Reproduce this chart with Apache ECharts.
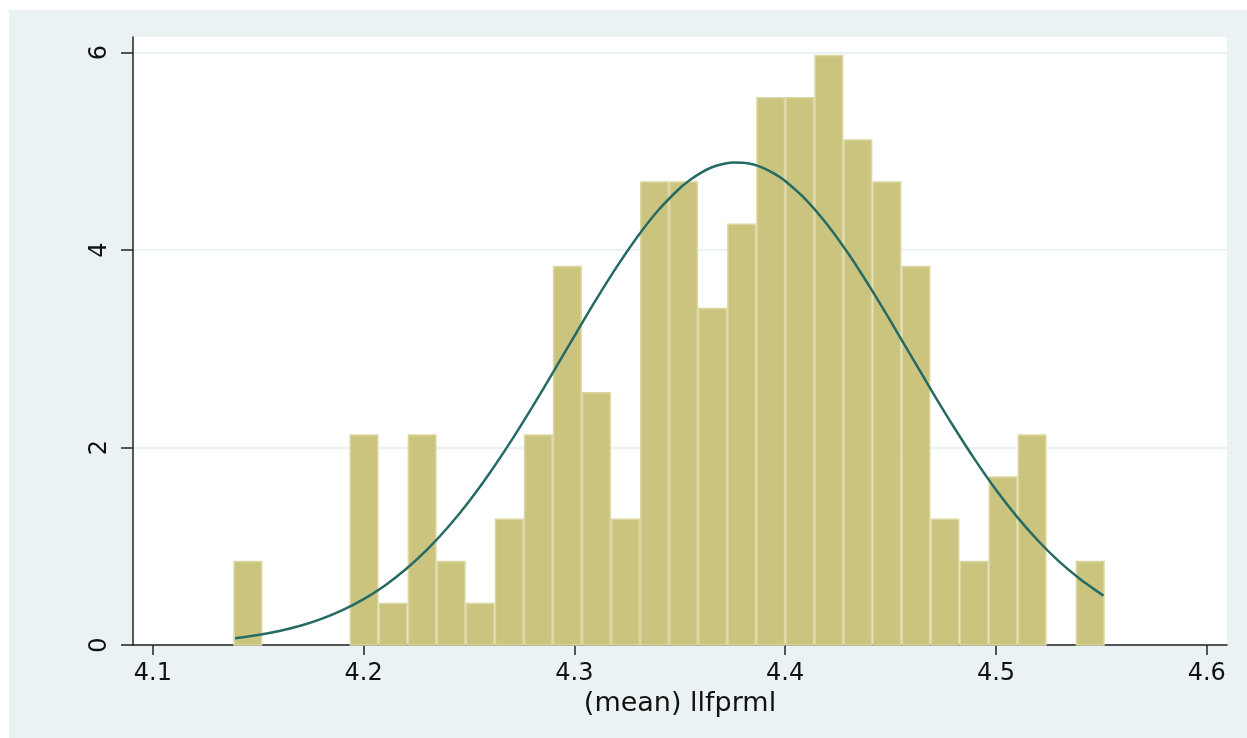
<!DOCTYPE html>
<html>
<head>
<meta charset="utf-8">
<script src="https://cdn.jsdelivr.net/npm/echarts@6/dist/echarts.min.js"></script>
<style>
html,body{margin:0;padding:0;background:#fff;}
#frame{position:absolute;left:9px;top:10px;width:1238px;height:728px;background:#eaf2f3;}
#chart{position:absolute;left:0;top:0;width:1247px;height:738px;}
</style>
</head>
<body>
<div id="frame"></div>
<div id="chart"></div>
<script>
// Histogram: bins of equal width starting at binStart
const binStart = 4.1382;
const binWidth = 0.01378;
const density = [0.854, 0, 0, 0, 2.135, 0.427, 2.135, 0.854, 0.427, 1.281,
                 2.135, 3.842, 2.562, 1.281, 4.696, 4.696, 3.415, 4.269, 5.55, 5.55,
                 5.977, 5.123, 4.696, 3.842, 1.281, 0.854, 1.708, 2.135, 0, 0.854];
// Normal density curve
const curveX = [4.139, 4.15, 4.16, 4.17, 4.18, 4.19, 4.20, 4.21, 4.22, 4.23, 4.24, 4.25,
                4.26, 4.27, 4.28, 4.29, 4.30, 4.31, 4.32, 4.33, 4.34, 4.35, 4.355, 4.36, 4.365, 4.37,
                4.375, 4.38, 4.385, 4.39, 4.395, 4.40, 4.41, 4.42, 4.43, 4.44, 4.45, 4.46, 4.47, 4.48, 4.49,
                4.50, 4.51, 4.52, 4.53, 4.54, 4.551];
const curveY = [0.069, 0.102, 0.142, 0.195, 0.265, 0.353, 0.464, 0.601, 0.767, 0.963, 1.193, 1.454,
                1.747, 2.067, 2.409, 2.766, 3.129, 3.487, 3.827, 4.138, 4.408, 4.626, 4.712, 4.782, 4.836, 4.869,
                4.886, 4.885, 4.866, 4.827, 4.771, 4.699, 4.507, 4.257, 3.962, 3.632, 3.280, 2.918, 2.557, 2.208, 1.878,
                1.573, 1.298, 1.056, 0.845, 0.667, 0.500];
const xTicks = [4.1, 4.2, 4.3, 4.4, 4.5, 4.6];
const yTicks = [0, 2, 4, 6];
const xTitle = '(mean) llfprml';

const barData = density.map((d, i) => [binStart + i * binWidth, binStart + (i + 1) * binWidth, d]);
const lineData = curveX.map((x, i) => [x, curveY[i]]);

const chart = echarts.init(document.getElementById('chart'), null, {renderer: 'canvas'});
const font = '"DejaVu Sans", "Liberation Sans", Arial, sans-serif';
chart.setOption({
  animation: false,
  backgroundColor: 'transparent',
  grid: {left: 133, right: 20, top: 37, bottom: 93, show: true, backgroundColor: '#ffffff', borderWidth: 0},
  xAxis: {
    type: 'value', min: 4.0906, max: 4.6096,
    name: xTitle, nameLocation: 'middle', nameGap: 41,
    nameTextStyle: {fontFamily: font, fontSize: 27, color: '#111'},
    axisLine: {show: true, onZero: false, lineStyle: {color: '#222', width: 1.5}},
    axisTick: {show: true, length: 10, inside: false, customValues: xTicks, lineStyle: {color: '#222', width: 1.5}},
    axisLabel: {customValues: xTicks, fontFamily: font, fontSize: 24, color: '#111', margin: 17,
      formatter: v => v.toFixed(1)},
    splitLine: {show: false}
  },
  yAxis: {
    type: 'value', min: 0, max: 6.158,
    axisLine: {show: true, lineStyle: {color: '#222', width: 1.5}},
    axisTick: {show: true, length: 12, customValues: yTicks, lineStyle: {color: '#222', width: 1.5}},
    axisLabel: {customValues: yTicks, rotate: 90, fontFamily: font, fontSize: 24, color: '#111', margin: 21},
    splitLine: {show: true, lineStyle: {color: '#eaf2f3', width: 2}}
  },
  series: [
    {
      type: 'custom',
      data: barData,
      renderItem: function (params, api) {
        const p0 = api.coord([api.value(0), api.value(2)]);
        const p1 = api.coord([api.value(1), 0]);
        if (api.value(2) <= 0) return null;
        return {
          type: 'rect',
          shape: {x: p0[0] + 0.75, y: p0[1] + 0.75, width: p1[0] - p0[0] - 1.5, height: p1[1] - p0[1] - 0.75},
          style: {fill: '#cbc47f', stroke: '#dcd7a2', lineWidth: 1.5}
        };
      },
      encode: {x: [0, 1], y: 2},
      z: 2
    },
    {
      type: 'line',
      data: lineData,
      smooth: 0.25,
      showSymbol: false,
      lineStyle: {color: '#266b63', width: 2.5},
      z: 3
    }
  ]
});
</script>
</body>
</html>
